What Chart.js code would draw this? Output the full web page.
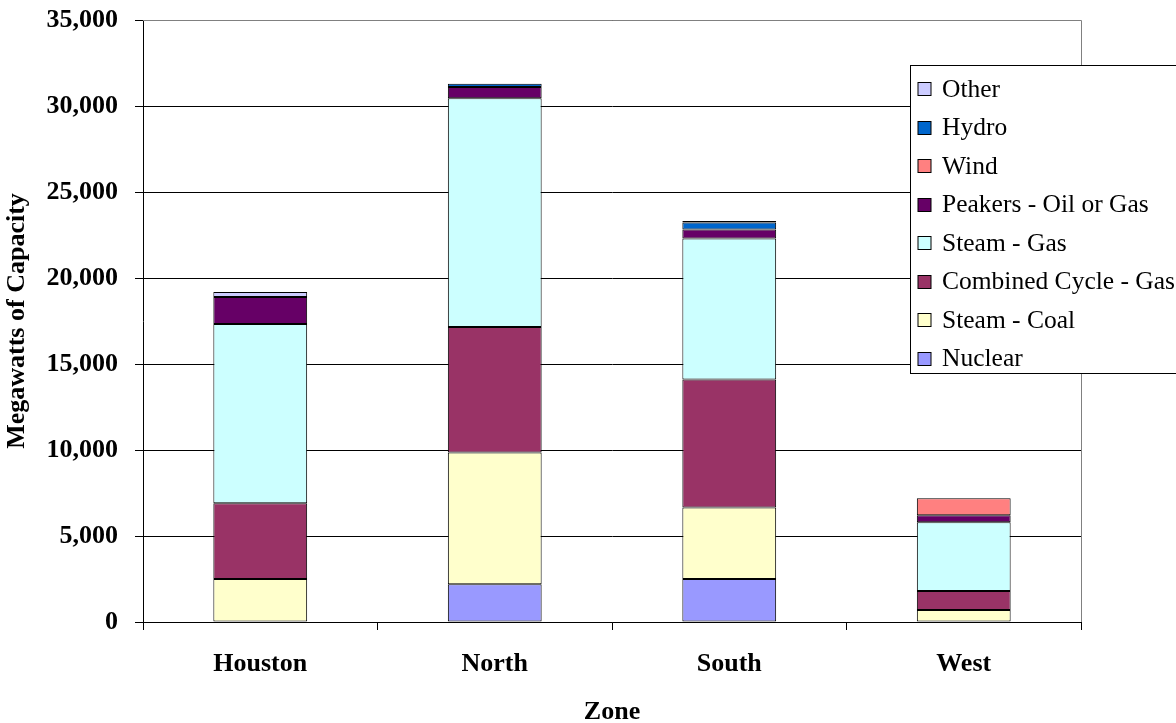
<!DOCTYPE html>
<html>
<head>
<meta charset="utf-8">
<script src="https://cdn.jsdelivr.net/npm/chart.js@4.4.1/dist/chart.umd.min.js"></script>
<style>
html,body{margin:0;padding:0;background:#fff;}
#wrap{width:1176px;height:723px;position:relative;}
</style>
</head>
<body>
<div id="wrap"><canvas id="c" width="1176" height="723"></canvas></div>
<script>
const categories = ['Houston', 'North', 'South', 'West'];
const nuclear       = [null, 2200, 2500, null];
const steamCoal     = [2500, 7650, 4150, 700];
const combinedCycle = [4400, 7300, 7450, 1100];
const steamGas      = [10430, 13300, 8200, 4000];
const peakers       = [1570, 650, 520, 400];
const wind          = [null, null, null, 1000];
const hydro         = [null, 200, 400, null];
const other         = [290, null, 100, null];
const yTicks = [0, 5000, 10000, 15000, 20000, 25000, 30000, 35000];

const seriesNames = ['Nuclear', 'Steam - Coal', 'Combined Cycle - Gas', 'Steam - Gas', 'Peakers - Oil or Gas', 'Wind', 'Hydro', 'Other'];
const seriesData = [nuclear, steamCoal, combinedCycle, steamGas, peakers, wind, hydro, other];
const seriesColors = ['#9999FF', '#FFFFCC', '#993366', '#CCFFFF', '#660066', '#FF8080', '#0066CC', '#CCCCFF'];

const FONT = "'Liberation Serif', 'Times New Roman', serif";

const plotFrame = {
  id: 'plotFrame',
  beforeDatasetsDraw(chart) {
    const {ctx, chartArea: a} = chart;
    ctx.save();
    ctx.strokeStyle = '#808080';
    ctx.lineWidth = 1;
    ctx.beginPath();
    ctx.moveTo(a.left, a.top + 0.5);
    ctx.lineTo(a.right + 0.5, a.top + 0.5);
    ctx.lineTo(a.right + 0.5, a.bottom);
    ctx.stroke();
    ctx.restore();
  }
};

const boxLegend = {
  id: 'boxLegend',
  afterDraw(chart) {
    const ctx = chart.ctx;
    const x = 910.5, y = 65.5, w = 300, h = 308;
    ctx.save();
    ctx.fillStyle = '#fff';
    ctx.fillRect(x, y, w, h);
    ctx.strokeStyle = '#000';
    ctx.lineWidth = 1;
    ctx.strokeRect(x, y, w, h);
    ctx.font = '25.5px ' + FONT;
    ctx.textBaseline = 'middle';
    const ds = chart.data.datasets.slice().reverse();
    ds.forEach((d, i) => {
      const cy = 89 + i * 38.5;
      ctx.fillStyle = d.backgroundColor;
      ctx.fillRect(918, Math.round(cy - 7) + 0.5, 13, 13);
      ctx.strokeStyle = '#000';
      ctx.strokeRect(918, Math.round(cy - 7) + 0.5, 13, 13);
      ctx.fillStyle = '#000';
      ctx.fillText(d.label, 942, cy + 1);
    });
    ctx.restore();
  }
};

new Chart(document.getElementById('c'), {
  type: 'bar',
  data: {
    labels: categories,
    datasets: seriesNames.map((n, i) => ({
      label: n,
      data: seriesData[i],
      backgroundColor: seriesColors[i],
      borderColor: '#000',
      borderWidth: 1,
      borderSkipped: false,
      barPercentage: 0.4,
      categoryPercentage: 1.0
    }))
  },
  options: {
    responsive: false,
    animation: false,
    layout: { padding: { top: 20, right: 95, left: 0, bottom: 0 } },
    plugins: { legend: { display: false }, tooltip: { enabled: false } },
    scales: {
      x: {
        stacked: true,
        afterFit(axis) { axis.height = 101; axis.paddingLeft = 0; axis.paddingRight = 0; },
        grid: { display: true, drawOnChartArea: false, drawTicks: true, tickLength: 8, color: '#000', offset: true },
        border: { color: '#000', width: 1 },
        ticks: { color: '#000', font: { family: FONT, size: 26, weight: 'bold' }, padding: 19 },
        title: { display: true, text: 'Zone', color: '#000', font: { family: FONT, size: 26, weight: 'bold' }, padding: { top: 10, bottom: -5 } }
      },
      y: {
        stacked: true,
        min: 0, max: 35000,
        afterFit(axis) { axis.width = 143; axis.paddingTop = 0; axis.paddingBottom = 0; },
        afterBuildTicks(axis) { axis.ticks = yTicks.map(v => ({ value: v })); },
        grid: { color: '#000', tickLength: 8, drawTicks: true },
        border: { color: '#000', width: 1 },
        ticks: {
          color: '#000', padding: 17,
          font: { family: FONT, size: 26, weight: 'bold' },
          callback: v => v.toLocaleString('en-US')
        },
        title: { display: true, text: 'Megawatts of Capacity', color: '#000', font: { family: FONT, size: 26, weight: 'bold' }, padding: { top: 2, bottom: 0 } }
      }
    }
  },
  plugins: [plotFrame, boxLegend]
});
</script>
</body>
</html>
